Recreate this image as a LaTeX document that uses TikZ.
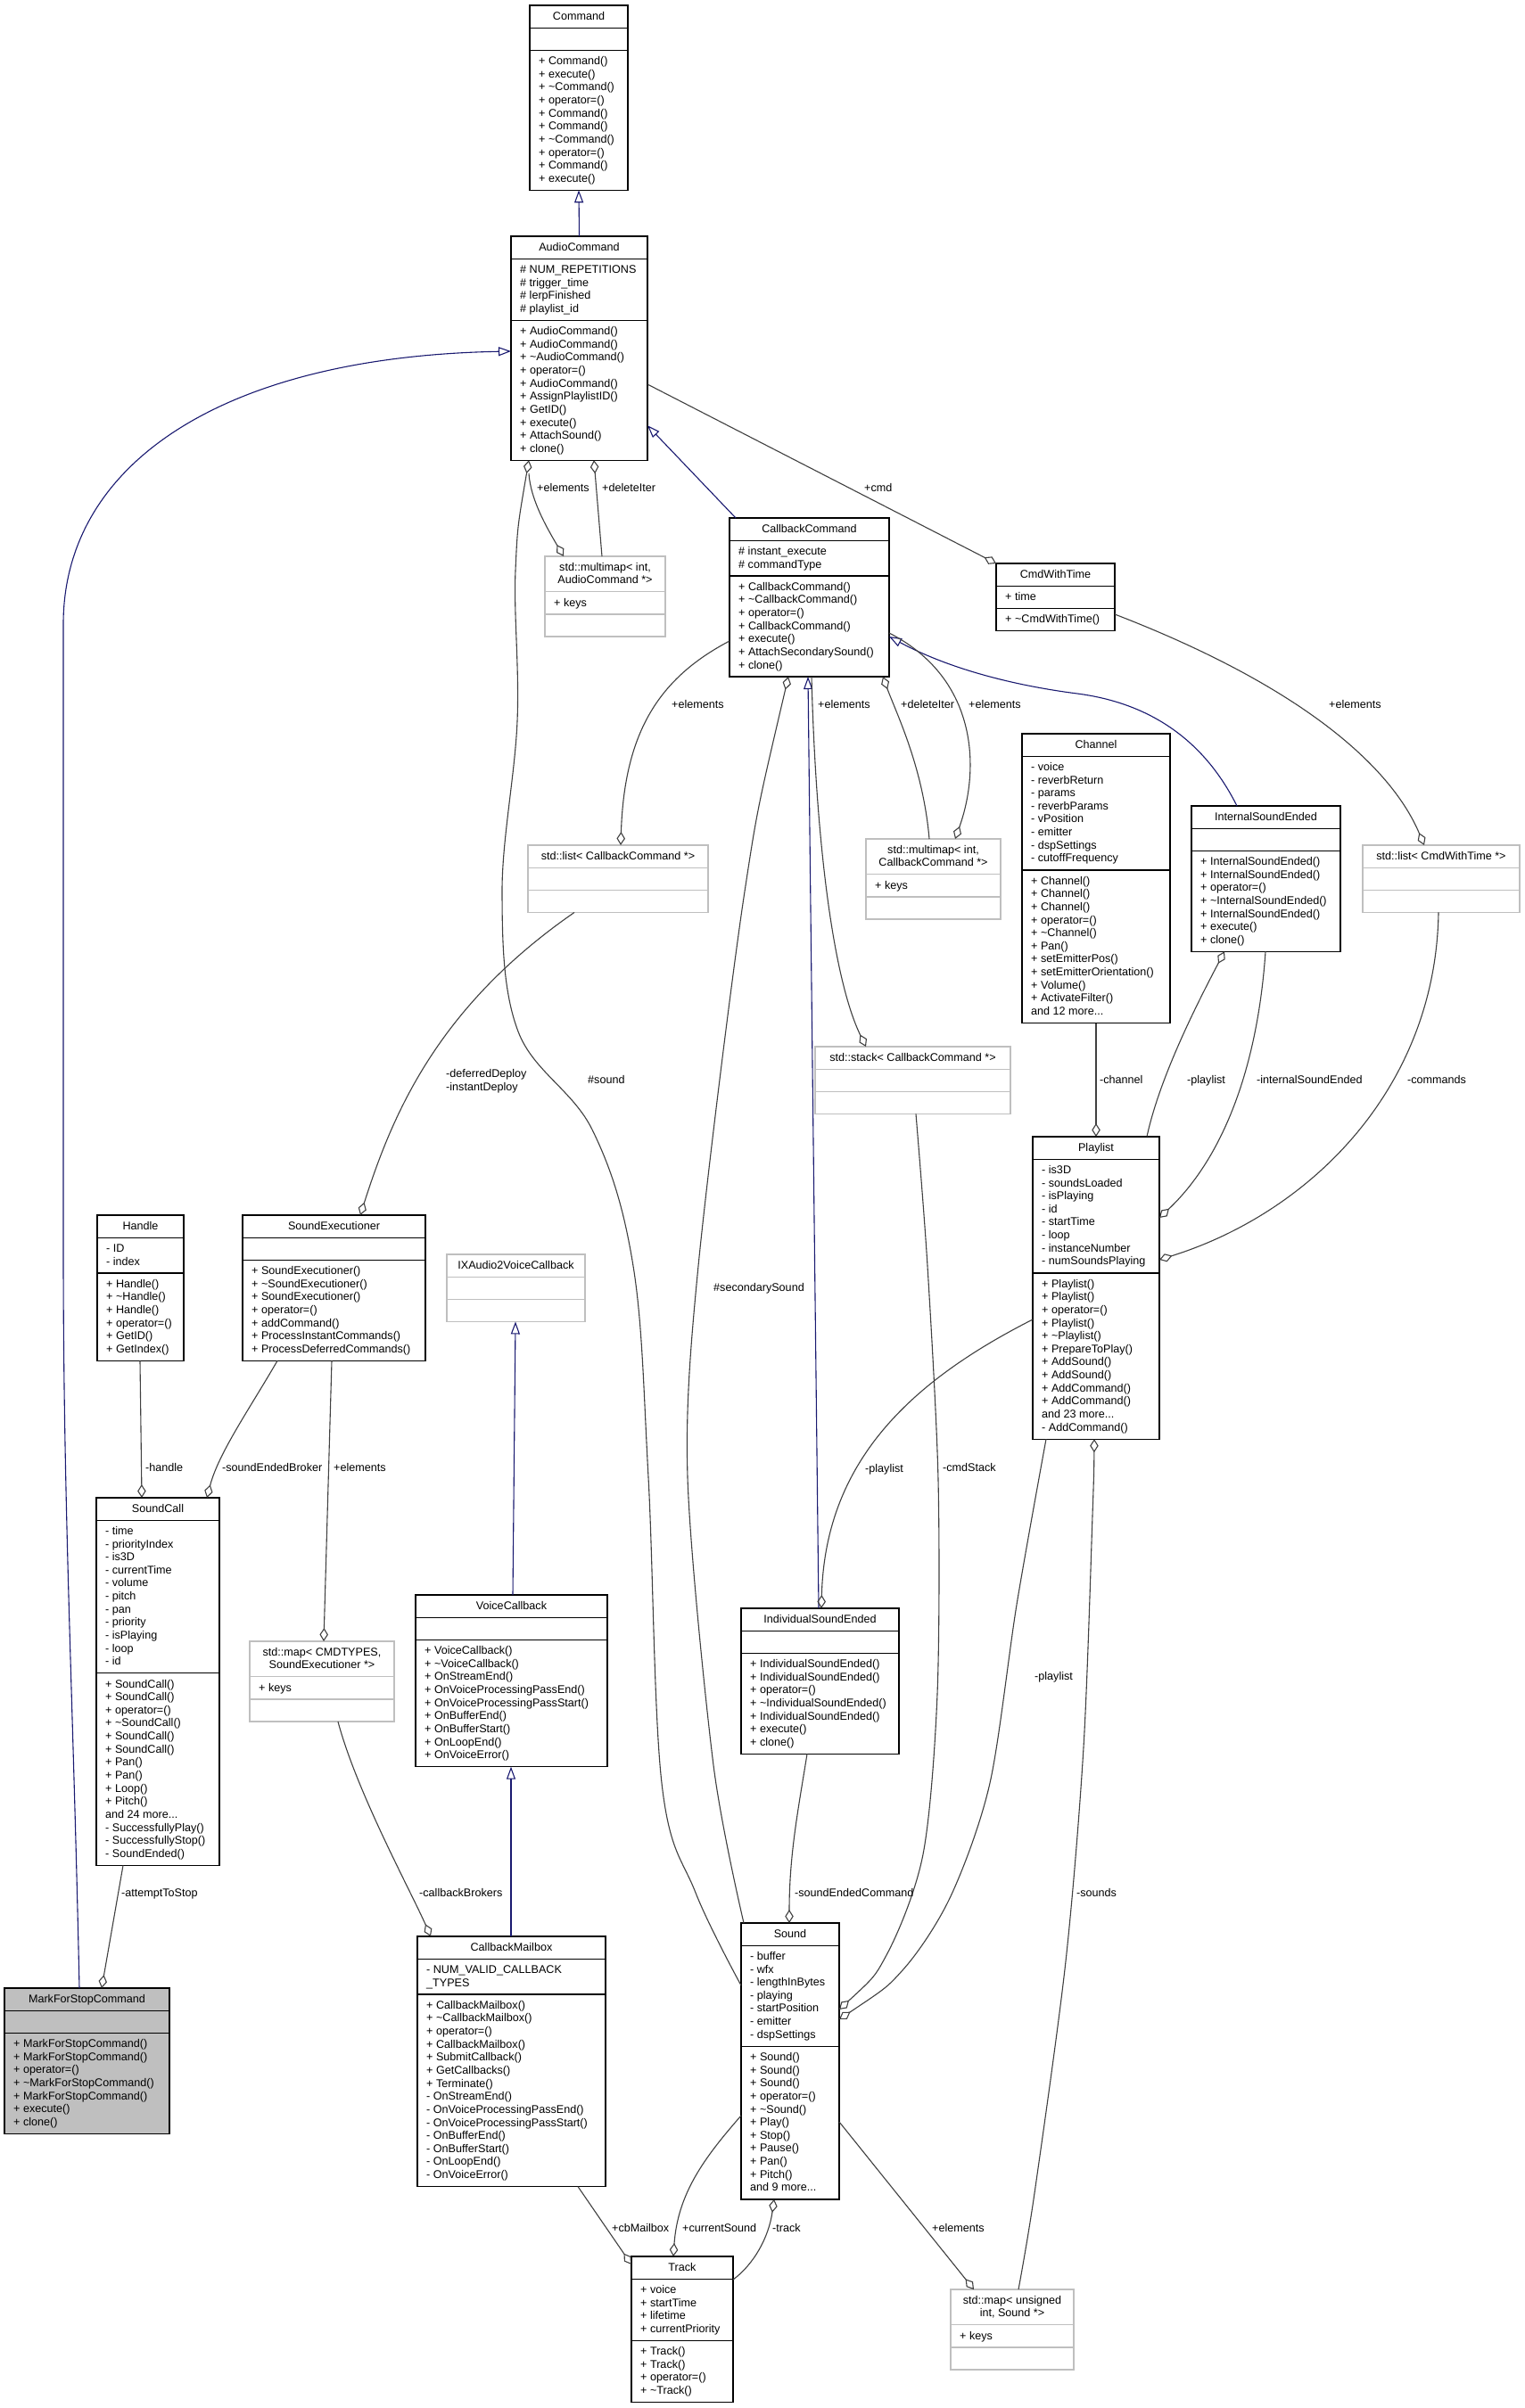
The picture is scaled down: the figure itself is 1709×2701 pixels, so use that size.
\documentclass[tikz,border=0pt]{standalone}
\usepackage{fontspec}
\setmainfont{Liberation Sans}
\usetikzlibrary{arrows.meta}
\definecolor{edgec}{HTML}{404040}
\definecolor{inhc}{HTML}{191970}
\definecolor{tplc}{HTML}{BFBFBF}
\newcommand\ufont{\fontsize{12.6pt}{14.65pt}\selectfont\lineskiplimit=-100pt\relax}
\newcommand\ustrut{\rule[-3.9pt]{0pt}{14.65pt}}
\newcommand\ut{\textasciitilde}
\newcommand\ubox[9]{%
  \pgfmathsetmacro\hA{#6*14.65+10.5}%
  \pgfmathsetmacro\hB{max(#7,1)*14.65+10.5}%
  \pgfmathsetmacro\hC{max(#8,1)*14.65+10.5}%
  \pgfmathsetmacro\hT{\hA+\hB+\hC}%
  \pgfmathsetmacro\hAB{\hA+\hB}%
  \pgfmathsetmacro\yA{\hA+5.25}%
  \pgfmathsetmacro\yM{\hA+\hB+5.25}%
  \node[#2, anchor=north west, minimum width=#5pt, minimum height=\hT pt, inner sep=0pt, outer sep=0pt] (#1) at (#3,#4) {};
  \draw[#2, fill=none] ([yshift=-\hA pt]#1.north west) -- ([yshift=-\hA pt]#1.north east);
  \draw[#2, fill=none] ([yshift=-\hAB pt]#1.north west) -- ([yshift=-\hAB pt]#1.north east);
  \node[anchor=north, inner sep=0pt, align=center] (#1-h) at ([yshift=-5.25pt]#1.north) {\ustrut#9};
  \ifnum#7>0 \node[anchor=north west, inner sep=0pt, align=left] (#1-a) at ([xshift=10pt,yshift=-\yA pt]#1.north west) {\ustrut\UA};\fi
  \ifnum#8>0 \node[anchor=north west, inner sep=0pt, align=left] (#1-m) at ([xshift=10pt,yshift=-\yM pt]#1.north west) {\ustrut\UM};\fi
}
\tikzset{
  ucls/.style={draw=black, line width=1.3pt},
  utpl/.style={draw=tplc, line width=1.3pt},
  ucur/.style={draw=black, fill=tplc, line width=1.3pt},
  agg/.style={draw=edgec, line width=1.1pt, arrows={Diamond[open,length=15pt,width=9.5pt]-}},
  inh/.style={draw=inhc, line width=1.1pt, arrows={-Triangle[open,length=14pt,width=10pt]}},
  lbl/.style={anchor=base west, inner sep=0pt},
}
\begin{document}
\begin{tikzpicture}[x=1pt, y=-1pt, font=\ufont]
\fill[white] (0,0) rectangle (1709,2701);
\useasboundingbox (0,0) rectangle (1709,2701);

% ---------- classes ----------
\def\UM{+ Command()\\+ execute()\\+ \ut Command()\\+ operator=()\\+ Command()\\+ Command()\\+ \ut Command()\\+ operator=()\\+ Command()\\+ execute()}
\ubox{cmd}{ucls}{594}{6}{110}{1}{0}{10}{Command}

\def\UA{\# NUM\_REPETITIONS\\\# trigger\_time\\\# lerpFinished\\\# playlist\_id}
\def\UM{+ AudioCommand()\\+ AudioCommand()\\+ \ut AudioCommand()\\+ operator=()\\+ AudioCommand()\\+ AssignPlaylistID()\\+ GetID()\\+ execute()\\+ AttachSound()\\+ clone()}
\ubox{ac}{ucls}{573}{265}{153}{1}{4}{10}{AudioCommand}

\def\UA{\# instant\_execute\\\# commandType}
\def\UM{+ CallbackCommand()\\+ \ut CallbackCommand()\\+ operator=()\\+ CallbackCommand()\\+ execute()\\+ AttachSecondarySound()\\+ clone()}
\ubox{cc}{ucls}{818}{581}{179}{1}{2}{7}{CallbackCommand}

\def\UA{+ keys}
\ubox{mma}{utpl}{611}{624}{135}{2}{1}{0}{std::multimap< int,\\ AudioCommand *>}

\def\UA{+ time}
\def\UM{+ \ut CmdWithTime()}
\ubox{cwt}{ucls}{1117}{632}{133}{1}{1}{1}{CmdWithTime}

\ubox{lcc}{utpl}{592}{948}{202}{1}{0}{0}{std::list< CallbackCommand *>}

\def\UA{+ keys}
\ubox{mmc}{utpl}{971}{941}{151}{2}{1}{0}{std::multimap< int,\\ CallbackCommand *>}

\def\UA{- voice\\- reverbReturn\\- params\\- reverbParams\\- vPosition\\- emitter\\- dspSettings\\- cutoffFrequency}
\def\UM{+ Channel()\\+ Channel()\\+ Channel()\\+ operator=()\\+ \ut Channel()\\+ Pan()\\+ setEmitterPos()\\+ setEmitterOrientation()\\+ Volume()\\+ ActivateFilter()\\and 12 more...}
\ubox{chn}{ucls}{1146}{823}{166}{1}{8}{11}{Channel}

\def\UM{+ InternalSoundEnded()\\+ InternalSoundEnded()\\+ operator=()\\+ \ut InternalSoundEnded()\\+ InternalSoundEnded()\\+ execute()\\+ clone()}
\ubox{ise}{ucls}{1336}{904}{167}{1}{0}{7}{InternalSoundEnded}

\ubox{lcw}{utpl}{1528}{948}{176}{1}{0}{0}{std::list< CmdWithTime *>}

\ubox{stk}{utpl}{914}{1174}{219}{1}{0}{0}{std::stack< CallbackCommand *>}

\def\UA{- ID\\- index}
\def\UM{+ Handle()\\+ \ut Handle()\\+ Handle()\\+ operator=()\\+ GetID()\\+ GetIndex()}
\ubox{hdl}{ucls}{109}{1363}{97}{1}{2}{6}{Handle}

\def\UM{+ SoundExecutioner()\\+ \ut SoundExecutioner()\\+ SoundExecutioner()\\+ operator=()\\+ addCommand()\\+ ProcessInstantCommands()\\+ ProcessDeferredCommands()}
\ubox{sex}{ucls}{272}{1363}{205}{1}{0}{7}{SoundExecutioner}

\ubox{ixa}{utpl}{501}{1407}{155}{1}{0}{0}{IXAudio2VoiceCallback}

\def\UA{- is3D\\- soundsLoaded\\- isPlaying\\- id\\- startTime\\- loop\\- instanceNumber\\- numSoundsPlaying}
\def\UM{+ Playlist()\\+ Playlist()\\+ operator=()\\+ Playlist()\\+ \ut Playlist()\\+ PrepareToPlay()\\+ AddSound()\\+ AddSound()\\+ AddCommand()\\+ AddCommand()\\and 23 more...\\- AddCommand()}
\ubox{pl}{ucls}{1158}{1275}{142}{1}{8}{12}{Playlist}

\def\UA{- time\\- priorityIndex\\- is3D\\- currentTime\\- volume\\- pitch\\- pan\\- priority\\- isPlaying\\- loop\\- id}
\def\UM{+ SoundCall()\\+ SoundCall()\\+ operator=()\\+ \ut SoundCall()\\+ SoundCall()\\+ SoundCall()\\+ Pan()\\+ Pan()\\+ Loop()\\+ Pitch()\\and 24 more...\\- SuccessfullyPlay()\\- SuccessfullyStop()\\- SoundEnded()}
\ubox{sc}{ucls}{108}{1680}{138}{1}{11}{14}{SoundCall}

\def\UA{+ keys}
\ubox{mse}{utpl}{280}{1841}{162}{2}{1}{0}{std::map< CMDTYPES,\\ SoundExecutioner *>}

\def\UM{+ VoiceCallback()\\+ \ut VoiceCallback()\\+ OnStreamEnd()\\+ OnVoiceProcessingPassEnd()\\+ OnVoiceProcessingPassStart()\\+ OnBufferEnd()\\+ OnBufferStart()\\+ OnLoopEnd()\\+ OnVoiceError()}
\ubox{vc}{ucls}{466}{1789}{215}{1}{0}{9}{VoiceCallback}

\def\UM{+ IndividualSoundEnded()\\+ IndividualSoundEnded()\\+ operator=()\\+ \ut IndividualSoundEnded()\\+ IndividualSoundEnded()\\+ execute()\\+ clone()}
\ubox{ind}{ucls}{831}{1804}{177}{1}{0}{7}{IndividualSoundEnded}

\def\UM{+ MarkForStopCommand()\\+ MarkForStopCommand()\\+ operator=()\\+ \ut MarkForStopCommand()\\+ MarkForStopCommand()\\+ execute()\\+ clone()}
\ubox{mfs}{ucur}{5}{2230}{185}{1}{0}{7}{MarkForStopCommand}

\def\UA{- NUM\_VALID\_CALLBACK\\\_TYPES}
\def\UM{+ CallbackMailbox()\\+ \ut CallbackMailbox()\\+ operator=()\\+ CallbackMailbox()\\+ SubmitCallback()\\+ GetCallbacks()\\+ Terminate()\\- OnStreamEnd()\\- OnVoiceProcessingPassEnd()\\- OnVoiceProcessingPassStart()\\- OnBufferEnd()\\- OnBufferStart()\\- OnLoopEnd()\\- OnVoiceError()}
\ubox{cbm}{ucls}{468}{2172}{211}{1}{2}{14}{CallbackMailbox}

\def\UA{- buffer\\- wfx\\- lengthInBytes\\- playing\\- startPosition\\- emitter\\- dspSettings}
\def\UM{+ Sound()\\+ Sound()\\+ Sound()\\+ operator=()\\+ \ut Sound()\\+ Play()\\+ Stop()\\+ Pause()\\+ Pan()\\+ Pitch()\\and 9 more...}
\ubox{snd}{ucls}{831}{2157}{110}{1}{7}{11}{Sound}

\def\UA{+ voice\\+ startTime\\+ lifetime\\+ currentPriority}
\def\UM{+ Track()\\+ Track()\\+ operator=()\\+ \ut Track()}
\ubox{trk}{ucls}{708}{2531}{114}{1}{4}{4}{Track}

\def\UA{+ keys}
\ubox{mus}{utpl}{1066}{2568}{138}{2}{1}{0}{std::map< unsigned\\ int, Sound *>}

% ---------- inheritance ----------
\draw[inh] (ac.north) -- (cmd.south);
\draw[inh] ([xshift=84pt]mfs.north west) .. controls (82,1900) and (71,1700) .. (71,1400) -- (71,700) .. controls (71,520) and (250,400) .. ([yshift=-129pt]ac.north west);
\draw[inh] ([xshift=7pt]cc.north west) -- ([yshift=39pt]ac.south east);
\draw[inh] ([xshift=51pt]ise.north west) .. controls (1355,840) and (1300,790) .. (1208,778) .. controls (1130,768) and (1060,748) .. ([yshift=-133pt]cc.north east);
\draw[inh] ([xshift=87pt]ind.north west) -- ([xshift=88pt]cc.south west);
\draw[inh] ([xshift=109pt]vc.north west) -- ([xshift=77pt]ixa.south west);
\draw[inh] ([xshift=105pt]cbm.north west) -- ([xshift=107pt]vc.south west);

% ---------- aggregation ----------
\draw[agg] plot[smooth, tension=0.6] coordinates {([xshift=20pt]ac.south west) (578,640) (580,809) (563,1000) (581,1157) (664,1267) (710,1420) (727,1657) (742,2000) (780,2123) ([yshift=-70pt]snd.north west)};
\draw[agg] ([xshift=21pt]mma.north west) .. controls (612,590) and (595,560) .. ([xshift=20pt,yshift=-15pt]ac.south west);
\draw[agg] ([xshift=93pt]ac.south west) -- ([xshift=64pt]mma.north west);
\draw[agg] (cwt.north west) -- ([yshift=-166pt]ac.north east);
\draw[agg] ([xshift=69pt]lcw.north west) .. controls (1560,860) and (1460,770) .. ([yshift=-57pt]cwt.north east);
\draw[agg] ([xshift=104pt]lcc.north west) .. controls (700,820) and (740,760) .. ([yshift=-138pt]cc.north west);
\draw[agg] plot[smooth] coordinates {([xshift=66pt]cc.south west) (835,1000) (783,1420) (771,1657) (800,1980) ([xshift=3pt]snd.north west)};
\draw[agg] ([xshift=57pt]stk.north west) .. controls (935,1100) and (915,950) .. ([xshift=92pt]cc.south west);
\draw[agg] ([xshift=172pt]cc.south west) .. controls (1005,800) and (1035,860) .. ([xshift=71pt]mmc.north west);
\draw[agg] ([xshift=100pt]mmc.north west) .. controls (1100,860) and (1095,760) .. ([yshift=-129pt]cc.north east);
\draw[agg] ([xshift=132pt]sex.north west) .. controls (440,1250) and (490,1130) .. ([xshift=52pt]lcc.south west);
\draw[agg] ([xshift=71pt]pl.north west) -- ([xshift=83pt]chn.south west);
\draw[agg] ([xshift=37pt]ise.south west) .. controls (1340,1130) and (1300,1210) .. ([xshift=128pt]pl.north west);
\draw[agg] ([yshift=-91pt]pl.north east) .. controls (1370,1300) and (1410,1200) .. ([xshift=83pt]ise.south west);
\draw[agg] ([yshift=-138pt]pl.north east) .. controls (1470,1360) and (1610,1220) .. ([xshift=85pt]lcw.south west);
\draw[agg] ([xshift=90pt]ind.north west) .. controls (925,1640) and (1020,1550) .. ([yshift=-205pt]pl.north west);
\draw[agg] plot[smooth] coordinates {([yshift=-97pt]snd.north east) (994,2193) (1035,2080) (1051,1900) (1052,1660) (1040,1420) ([xshift=113pt]stk.south west)};
\draw[agg] plot[smooth] coordinates {([yshift=-108pt]snd.north east) (1012,2210) (1066,2127) (1110,2000) (1140,1800) ([xshift=15pt]pl.south west)};
\draw[agg] plot[smooth] coordinates {([xshift=69pt]pl.south west) (1225,1700) (1215,1960) (1195,2200) (1160,2460) ([xshift=76pt]mus.north west)};
\draw[agg] ([xshift=54pt]snd.north west) .. controls (885,2080) and (895,2030) .. ([xshift=74pt]ind.south west);
\draw[agg] ([xshift=51pt]sc.north west) -- ([xshift=48pt]hdl.south west);
\draw[agg] ([xshift=124pt]sc.north west) .. controls (245,1630) and (280,1580) .. ([xshift=39pt]sex.south west);
\draw[agg] ([xshift=83pt]mse.north west) -- ([xshift=100pt]sex.south west);
\draw[agg] ([xshift=15pt]cbm.north west) .. controls (460,2120) and (400,2010) .. ([xshift=99pt]mse.south west);
\draw[agg] ([xshift=109pt]mfs.north west) -- ([xshift=30pt]sc.south west);
\draw[agg] ([yshift=-9pt]trk.north west) -- ([xshift=180pt]cbm.south west);
\draw[agg] ([xshift=47pt]trk.north west) .. controls (760,2460) and (790,2420) .. ([yshift=-216pt]snd.north west);
\draw[agg] ([xshift=37pt]snd.south west) .. controls (862,2510) and (845,2540) .. ([yshift=-26pt]trk.north east);
\draw[agg] ([xshift=26pt]mus.north west) -- ([yshift=-223pt]snd.north east);

% ---------- labels ----------
\node[lbl] (l1) at (602,551.6) {+elements};
\node[lbl] (l2) at (675,551.6) {+deleteIter};
\node[lbl] (l3) at (969,551.6) {+cmd};
\node[lbl] (l4) at (753,794.6) {+elements};
\node[lbl] (l5) at (917,794.6) {+elements};
\node[lbl] (l6) at (1010,794.6) {+deleteIter};
\node[lbl] (l7) at (1086,794.6) {+elements};
\node[lbl] (l8) at (1490,794.6) {+elements};
\node[anchor=north west, inner sep=0pt, align=left] (l9) at (500,1197.85) {\ustrut-deferredDeploy\\-instantDeploy};
\node[lbl] (l10) at (659,1215.6) {\#sound};
\node[lbl] (l11) at (1233,1215.6) {-channel};
\node[lbl] (l12) at (1331,1215.6) {-playlist};
\node[lbl] (l13) at (1409,1215.6) {-internalSoundEnded};
\node[lbl] (l14) at (1578,1215.6) {-commands};
\node[lbl] (l15) at (800,1448.6) {\#secondarySound};
\node[lbl] (l16) at (970,1651.6) {-playlist};
\node[lbl] (l17) at (1057,1650.6) {-cmdStack};
\node[lbl] (l18) at (163,1650.6) {-handle};
\node[lbl] (l19) at (249,1650.6) {-soundEndedBroker};
\node[lbl] (l20) at (374,1650.6) {+elements};
\node[lbl] (l21) at (1160,1884.6) {-playlist};
\node[lbl] (l22) at (136,2127.6) {-attemptToStop};
\node[lbl] (l23) at (470,2127.6) {-callbackBrokers};
\node[lbl] (l24) at (891,2127.6) {-soundEndedCommand};
\node[lbl] (l25) at (1207,2127.6) {-sounds};
\node[lbl] (l26) at (686,2503.6) {+cbMailbox};
\node[lbl] (l27) at (765,2503.6) {+currentSound};
\node[lbl] (l28) at (866,2503.6) {-track};
\node[lbl] (l29) at (1045,2503.6) {+elements};
\end{tikzpicture}
\end{document}
